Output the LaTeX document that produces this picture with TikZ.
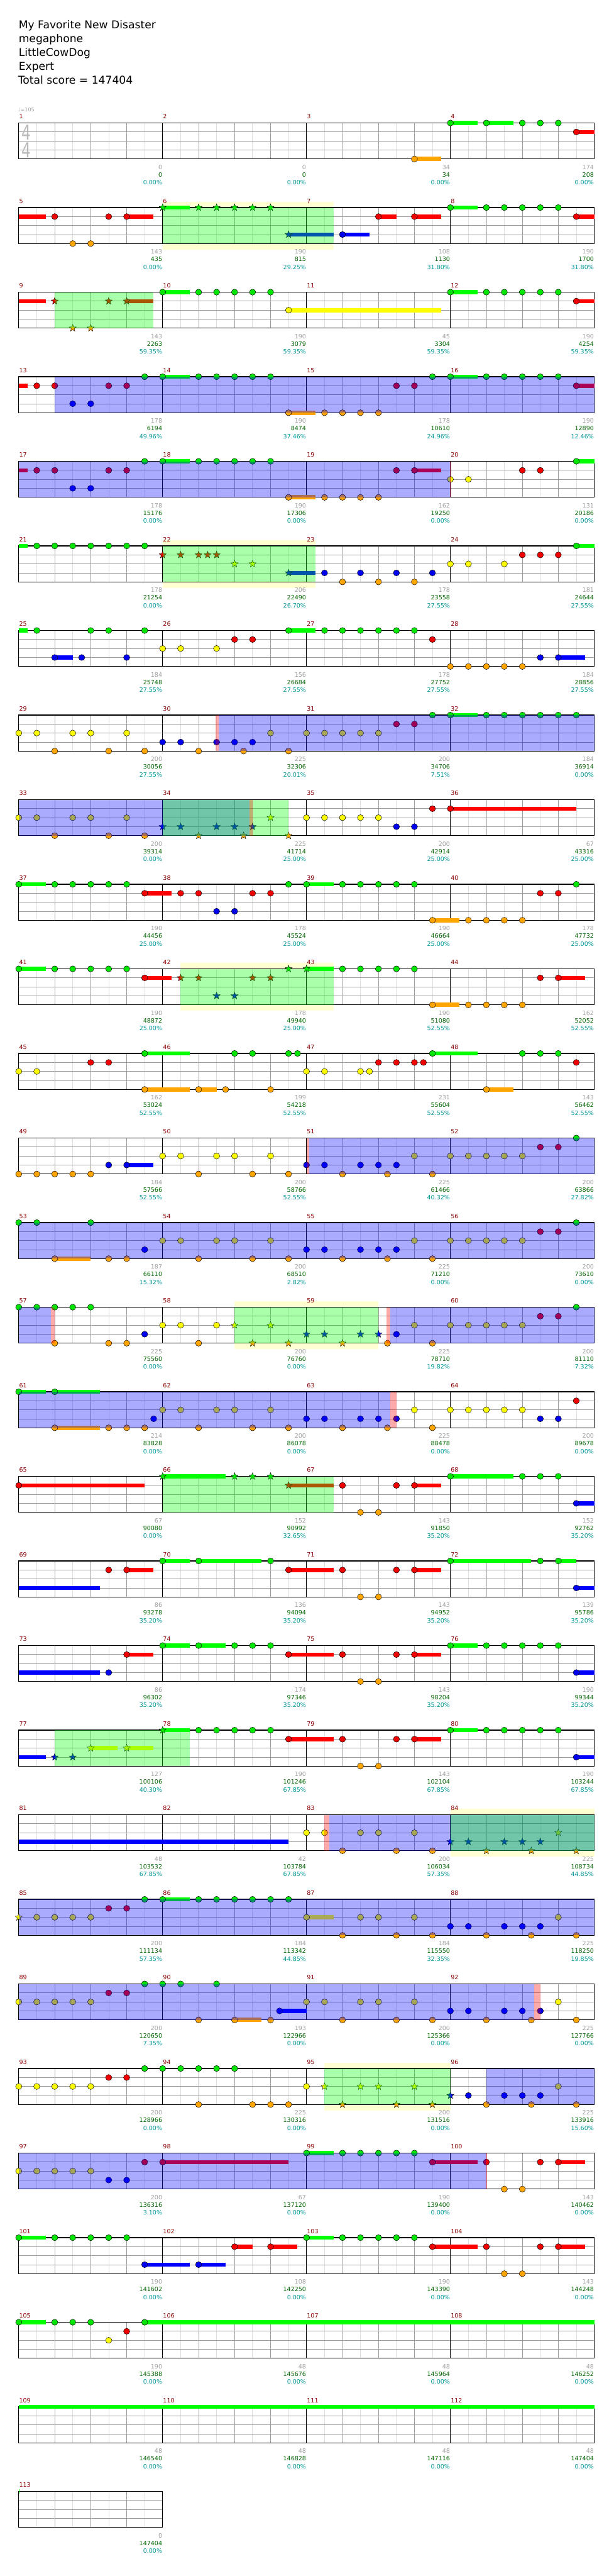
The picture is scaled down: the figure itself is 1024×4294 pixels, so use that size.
\documentclass[tikz,border=0pt]{standalone}
\usepackage{fontspec}
\setmainfont{DejaVu Sans}
\usetikzlibrary{shapes.geometric}
\pgfdeclarelayer{back}\pgfdeclarelayer{bg}\pgfdeclarelayer{fg}
\pgfsetlayers{back,bg,main,fg}
\definecolor{nG}{RGB}{0,230,0}\definecolor{sG}{RGB}{0,255,0}
\definecolor{nR}{RGB}{240,0,0}\definecolor{sR}{RGB}{255,0,0}
\definecolor{nY}{RGB}{250,250,0}\definecolor{sY}{RGB}{255,255,0}
\definecolor{nB}{RGB}{0,0,240}\definecolor{sB}{RGB}{0,0,255}
\definecolor{nO}{RGB}{255,165,0}\definecolor{sO}{RGB}{255,165,0}
\definecolor{ovB}{RGB}{0,0,255}\definecolor{ovG}{RGB}{0,255,0}\definecolor{ovP}{RGB}{255,0,0}
\definecolor{ybg}{RGB}{255,255,210}
\definecolor{mnumc}{RGB}{139,0,0}
\definecolor{labg}{RGB}{160,160,160}
\definecolor{labs}{RGB}{0,100,0}
\definecolor{labp}{RGB}{0,150,150}
\definecolor{tsig}{RGB}{185,185,185}
\def\lnG{0}\def\lnR{1}\def\lnY{2}\def\lnB{3}\def\lnO{4}
\tikzset{
 eighthl/.style={draw={rgb,255:red,222;green,222;blue,222},line width=0.8pt},
 beatl/.style={draw={rgb,255:red,155;green,155;blue,155},line width=0.9pt},
 lanel/.style={draw={rgb,255:red,155;green,155;blue,155},line width=1pt},
 barl/.style={draw=black,line width=0.9pt},
 borderl/.style={draw=black,line width=1.2pt},
 notest/.style={draw=black,line width=0.5pt},
 starst/.style={star,star points=5,star point ratio=2.4,minimum size=12.5pt,inner sep=0pt,draw=black,line width=0.4pt},
 mnum/.style={text=mnumc,inner sep=0pt,font=\fontsize{10}{12}\selectfont},
 lab/.style={inner sep=0pt,anchor=base east,font=\fontsize{10}{12}\selectfont},
 hdr/.style={inner sep=0pt,anchor=base west,font=\fontsize{18}{22}\selectfont}
}
\newcommand\setrow[1]{\pgfmathsetmacro\RT{205+141*#1}}
\newcommand\Nt[2]{\pgfmathsetmacro\ly{\RT+15*\csname ln#1\endcsname}\foreach \q in {#2}{\path[notest,fill=n#1] ({31.3+30*\q},\ly) ellipse[x radius=5.2pt,y radius=5pt];}}
\newcommand\Sus[3]{\pgfmathsetmacro\ly{\RT+15*\csname ln#1\endcsname}\fill[s#1] ({31.3+30*#2},{\ly-3.5}) rectangle ({31.3+30*#3},{\ly+3.5});}
\newcommand\NtS[3]{\Sus{#1}{#2}{#3}\Nt{#1}{#2}}
\newcommand\Sta[2]{\pgfmathsetmacro\ly{\RT+15*\csname ln#1\endcsname}\foreach \q in {#2}{\node[starst,fill=n#1] at ({31.3+30*\q},\ly) {};}}
\newcommand\StaS[3]{\Sus{#1}{#2}{#3}\Sta{#1}{#2}}
\newcommand\Bo[2]{\begin{pgfonlayer}{fg}\fill[ovB,fill opacity=0.333] ({31.3+30*#1},\RT) rectangle ({31.3+30*#2},{\RT+60});\end{pgfonlayer}}
\newcommand\Gr[2]{\begin{pgfonlayer}{fg}\fill[ovG,fill opacity=0.333] ({31.3+30*#1},\RT) rectangle ({31.3+30*#2},{\RT+60});\end{pgfonlayer}}
\newcommand\Pk[2]{\begin{pgfonlayer}{fg}\fill[ovP,fill opacity=0.333] ({31.3+30*#1},\RT) rectangle ({31.3+30*#2},{\RT+60});\end{pgfonlayer}}
\newcommand\Ye[2]{\begin{pgfonlayer}{bg}\fill[ybg] ({31.3+30*#1},{\RT-10}) rectangle ({31.3+30*#2},{\RT+70});\end{pgfonlayer}}
\newcommand\Labs[1]{\foreach \ga/\gb/\gc [count=\j from 1] in {#1}{%
 \node[lab,text=labg] at ({30.8+240*\j},{\RT+77}) {\ga};
 \node[lab,text=labs] at ({30.8+240*\j},{\RT+90}) {\gb};
 \node[lab,text=labp] at ({30.8+240*\j},{\RT+103}) {\gc\%};}}
\newcommand\Staff[1]{%
 \pgfmathsetmacro\W{240*#1}%
 \fill[white] (31.3,\RT) rectangle ++(\W,60);
 \pgfmathtruncatemacro\ne{8*#1-1}%
 \foreach \i in {1,...,\ne}{\draw[eighthl] ({31.3+30*\i},\RT) -- ++(0,60);}
 \pgfmathtruncatemacro\nb{4*#1-1}%
 \foreach \i in {1,...,\nb}{\draw[beatl] ({31.3+60*\i},\RT) -- ++(0,60);}
 \foreach \l in {1,2,3}{\draw[lanel] (31.3,{\RT+15*\l}) -- ++(\W,0);}
 \ifnum#1>1 \foreach \i in {1,2,3}{\draw[barl] ({31.3+240*\i},\RT) -- ++(0,60);}\fi
 \draw[borderl] (31.3,\RT) rectangle ++(\W,60);
}
\begin{document}
\begin{tikzpicture}[x=1pt,y=-1pt]
\useasboundingbox (0,0) rectangle (1024,4294);
\begin{pgfonlayer}{back}\fill[white] (0,0) rectangle (1024,4294);\end{pgfonlayer}
\node[hdr] (t1) at (31,48) {My Favorite New Disaster};
\node[hdr] (t2) at (31,71) {megaphone};
\node[hdr] (t3) at (31,94) {LittleCowDog};
\node[hdr] (t4) at (31,117) {Expert};
\node[hdr] (t5) at (30,140) {Total score = 147404};
\node[inner sep=0pt,anchor=base west,text=labg,font=\fontsize{8.5}{10}\selectfont] (tempo) at (30,186) {♩=105};
% staffs
\foreach \r in {0,...,27}{\setrow{\r}\Staff{4}%
 \foreach \j in {0,...,3}{\pgfmathtruncatemacro\mn{4*\r+\j+1}\node[mnum,anchor=base west] at ({31.8+240*\j},{\RT-7}) {\mn};}}
\setrow{28}\Staff{1}\node[mnum,anchor=base west] at (31.8,{\RT-7}) {113};
\node[inner sep=0pt,anchor=base,text=tsig,font=\fontsize{34}{34}\selectfont] (ts1) at (44,233) {\scalebox{0.72}[1]{4}};
\node[inner sep=0pt,anchor=base,text=tsig,font=\fontsize{34}{34}\selectfont] (ts2) at (44,263) {\scalebox{0.72}[1]{4}};
% row 0
\setrow{0}
\NtS{O}{22}{23.5}\NtS{G}{24}{25.5}\NtS{G}{26}{27.5}\Nt{G}{28,29,30}\NtS{R}{31}{32}
\Labs{0/0/0.00,0/0/0.00,34/34/0.00,174/208/0.00}
% row 1
\setrow{1}
\Ye{8}{17.5}
\Sus{R}{0}{1.5}\Nt{R}{2,5}\NtS{R}{6}{7.5}\Nt{O}{3,4}
\StaS{G}{8}{9.5}\Sta{G}{10,11,12,13,14}\StaS{B}{15}{17.5}
\NtS{B}{18}{19.5}\NtS{R}{20}{21}\NtS{R}{22}{23.5}
\NtS{G}{24}{25.5}\Nt{G}{26,27,28,29,30}\NtS{R}{31}{32}
\Gr{8}{17.5}
\Labs{143/435/0.00,190/815/29.25,108/1130/31.80,190/1700/31.80}
% row 2
\setrow{2}
\Sus{R}{0}{1.5}\Sta{R}{2,5}\StaS{R}{6}{7.5}\Sta{O}{3,4}
\Gr{2}{7.5}
\NtS{G}{8}{9.5}\Nt{G}{10,11,12,13,14}\NtS{Y}{15}{23.5}
\NtS{G}{24}{25.5}\Nt{G}{26,27,28,29,30}\NtS{R}{31}{32}
\Labs{143/2263/59.35,190/3079/59.35,45/3304/59.35,190/4254/59.35}
% row 3
\setrow{3}
\Sus{R}{0}{0.5}\Nt{R}{1,2,5,6}\Nt{B}{3,4}
\Nt{G}{7}\NtS{G}{8}{9.5}\Nt{G}{10,11,12,13,14}
\NtS{O}{15}{16.5}\Nt{O}{17,18,19,20}\Nt{R}{21,22}
\Nt{G}{23}\NtS{G}{24}{25.5}\Nt{G}{26,27,28,29,30}\NtS{R}{31}{32}
\Bo{2}{32}
\Labs{178/6194/49.96,190/8474/37.46,178/10610/24.96,190/12890/12.46}
% row 4
\setrow{4}
\Sus{R}{0}{0.5}\Nt{R}{1,2,5,6}\Nt{B}{3,4}
\Nt{G}{7}\NtS{G}{8}{9.5}\Nt{G}{10,11,12,13,14}
\NtS{O}{15}{16.5}\Nt{O}{17,18,19,20}\Nt{R}{21}\NtS{R}{22}{23.5}
\Nt{Y}{24,25}\Nt{R}{28,29}\NtS{G}{31}{32}
\Bo{0}{24}\Pk{23.97}{24.03}
\Labs{178/15176/0.00,190/17306/0.00,162/19250/0.00,131/20186/0.00}
% row 5
\setrow{5}
\Ye{8}{16.5}
\Sus{G}{0}{0.5}\Nt{G}{1,2,3,4,5,6,7}
\Sta{R}{8,9,10,10.5,11}\Sta{Y}{12,13}\StaS{B}{15}{16.5}
\Nt{B}{17,19,21,23}\Nt{O}{18,20,22}
\Nt{Y}{24,25,27}\Nt{R}{28,29,30}\NtS{G}{31}{32}
\Gr{8}{16.5}
\Labs{178/21254/0.00,206/22490/26.70,178/23558/27.55,181/24644/27.55}
% row 6
\setrow{6}
\Sus{G}{0}{0.5}\Nt{G}{1,4,5,7}\NtS{B}{2}{3}\Nt{B}{3.5,6}
\Nt{Y}{8,9,11}\Nt{R}{12,13}
\NtS{G}{15}{16.5}\Nt{G}{17,18,19,20,21,22}
\Nt{R}{23}\Nt{O}{24,25,26,27,28}\Nt{B}{29}\NtS{B}{30}{31.5}
\Labs{184/25748/27.55,156/26684/27.55,178/27752/27.55,184/28856/27.55}
% row 7
\setrow{7}
\Nt{Y}{0,1,3,4,6}\Nt{O}{2,5,7,10,12.5,15}\Nt{B}{8,9,11,12,13}
\Nt{Y}{14,16,17,18,19,20}\Nt{R}{21,22}
\Nt{G}{23}\NtS{G}{24}{25.5}\Nt{G}{26,27,28,29,30,31}
\Pk{10.95}{11.12}\Bo{11.12}{32}
\Labs{200/30056/27.55,225/32306/20.01,200/34706/7.51,184/36914/0.00}
% row 8
\setrow{8}
\Nt{Y}{0,1,3,4,6}\Nt{O}{2,5,7}
\Sta{B}{8,9,11,12,13}\Sta{O}{10,12.5,15}\Sta{Y}{14}
\Nt{Y}{16,17,18,19,20}\Nt{B}{21,22}\Nt{R}{23}\NtS{R}{24}{31}
\Bo{0}{12.82}\Gr{8}{15}\Pk{12.82}{13}
\Labs{200/39314/0.00,225/41714/25.00,200/42914/25.00,67/43316/25.00}
% row 9
\setrow{9}
\NtS{G}{0}{1.5}\Nt{G}{2,3,4,5,6}
\NtS{R}{7}{8.5}\Nt{R}{9,10,13,14}\Nt{B}{11,12}
\Nt{G}{15}\NtS{G}{16}{17.5}\Nt{G}{18,19,20,21,22}
\NtS{O}{23}{24.5}\Nt{O}{25,26,27,28}\Nt{R}{29,30}\Nt{G}{31}
\Labs{190/44456/25.00,178/45524/25.00,190/46664/25.00,178/47732/25.00}
% row 10
\setrow{10}
\Ye{9}{17.5}
\NtS{G}{0}{1.5}\Nt{G}{2,3,4,5,6}\NtS{R}{7}{8.5}
\Sta{R}{9,10,13,14}\Sta{B}{11,12}\Sta{G}{15}\StaS{G}{16}{17.5}
\Nt{G}{18,19,20,21,22}\NtS{O}{23}{24.5}\Nt{O}{25,26,27,28}
\Nt{R}{29}\NtS{R}{30}{31.5}
\Gr{9}{17.5}
\Labs{190/48872/25.00,178/49940/25.00,190/51080/52.55,162/52052/52.55}
% row 11
\setrow{11}
\Nt{Y}{0,1}\Nt{R}{4,5}\NtS{G}{7}{9.5}\NtS{O}{7}{9.5}
\NtS{O}{10}{11}\Nt{O}{11.5,14}\Nt{G}{12,13,15,15.5}
\Nt{Y}{16,17,19,19.5}\Nt{R}{20,21,22,22.5}
\NtS{G}{23}{25.5}\NtS{O}{26}{27.5}\Nt{G}{28,29,30}\Nt{R}{31}
\Labs{162/53024/52.55,199/54218/52.55,231/55604/52.55,143/56462/52.55}
% row 12
\setrow{12}
\Nt{O}{0,1,2,3,4}\Nt{B}{5}\NtS{B}{6}{7.5}
\Nt{Y}{8,9,11,12,14}\Nt{O}{10,13,15}
\Nt{B}{16,17,19,20,21}\Nt{O}{18,20.5,23}
\Nt{Y}{22,24,25,26,27,28}\Nt{R}{29,30}\Nt{G}{31}
\Pk{16}{16.15}\Bo{16.15}{32}
\Labs{184/57566/52.55,200/58766/52.55,225/61466/40.32,200/63866/27.82}
% row 13
\setrow{13}
\Nt{G}{0,1,4}\NtS{O}{2}{4}\Nt{O}{5,6,10,13,15,18,20.5,23}
\Nt{B}{7,16,17,19,20,21}\Nt{Y}{8,9,11,12,14,22,24,25,26,27,28}
\Nt{R}{29,30}\Nt{G}{31}
\Bo{0}{32}
\Labs{187/66110/15.32,200/68510/2.82,225/71210/0.00,200/73610/0.00}
% row 14
\setrow{14}
\Ye{12}{20}
\Nt{G}{0,1,2,3,4}\Nt{O}{2,5,6,10}\Nt{B}{7}\Nt{Y}{8,9,11}
\Sta{Y}{12,14}\Sta{O}{13,15,18}\Sta{B}{16,17,19,20}
\Nt{O}{20.5,23}\Nt{B}{21}\Nt{Y}{22,24,25,26,27,28}\Nt{R}{29,30}\Nt{G}{31}
\Bo{0}{1.8}\Pk{1.8}{2}\Gr{12}{20}\Pk{20.45}{20.65}\Bo{20.65}{32}
\Labs{225/75560/0.00,200/76760/0.00,225/78710/19.82,200/81110/7.32}
% row 15
\setrow{15}
\NtS{G}{0}{1.5}\NtS{G}{2}{4.5}\NtS{O}{2}{4.5}\Nt{O}{5,6,7,10,13,15,18,20.5,23}
\Nt{B}{7.5,16,17,19,20,21}\Nt{Y}{8,9,11,12,14,22,24,25,26,27,28}
\Nt{B}{29,30}\Nt{R}{31}
\Bo{0}{20.65}\Pk{20.65}{21}
\Labs{214/83828/0.00,200/86078/0.00,225/88478/0.00,200/89678/0.00}
% row 16
\setrow{16}
\NtS{R}{0}{7}\StaS{G}{8}{11.5}\Sta{G}{12,13,14}\StaS{R}{15}{17.5}
\Nt{R}{18,21}\NtS{R}{22}{23.5}\Nt{O}{19,20}
\NtS{G}{24}{27.5}\Nt{G}{28,29,30}\NtS{B}{31}{32}
\Gr{8}{17.5}
\Labs{67/90080/0.00,152/90992/32.65,143/91850/35.20,152/92762/35.20}
% row 17
\setrow{17}
\Sus{B}{0}{4.5}\Nt{R}{5}\NtS{R}{6}{7.5}
\NtS{G}{8}{9.5}\NtS{G}{10}{13.5}\Nt{G}{14}
\NtS{R}{15}{17.5}\Nt{R}{18,21}\NtS{R}{22}{23.5}\Nt{O}{19,20}
\NtS{G}{24}{28.5}\Nt{G}{29}\NtS{G}{30}{31}\NtS{B}{31}{32}
\Labs{86/93278/35.20,136/94094/35.20,143/94952/35.20,139/95786/35.20}
% row 18
\setrow{18}
\Sus{B}{0}{4.5}\Nt{B}{5}\NtS{R}{6}{7.5}
\NtS{G}{8}{9.5}\NtS{G}{10}{11.5}\Nt{G}{12,13,14}
\NtS{R}{15}{17.5}\Nt{R}{18,21}\NtS{R}{22}{23.5}\Nt{O}{19,20}
\NtS{G}{24}{25.5}\Nt{G}{26,27,28,29,30}\NtS{B}{31}{32}
\Labs{86/96302/35.20,174/97346/35.20,143/98204/35.20,190/99344/35.20}
% row 19
\setrow{19}
\Sus{B}{0}{1.5}\Sta{B}{2,3}\StaS{Y}{4}{5.5}\StaS{Y}{6}{7.5}\StaS{G}{8}{9.5}
\Gr{2}{9.5}
\Nt{G}{10,11,12,13,14}
\NtS{R}{15}{17.5}\Nt{R}{18,21}\NtS{R}{22}{23.5}\Nt{O}{19,20}
\NtS{G}{24}{25.5}\Nt{G}{26,27,28,29,30}\NtS{B}{31}{32}
\Labs{127/100106/40.30,190/101246/67.85,143/102104/67.85,190/103244/67.85}
% row 20
\setrow{20}
\Ye{24}{32}
\Sus{B}{0}{15}\Nt{Y}{16,17,19,20,22}\Nt{O}{18,21,23}
\Sta{B}{24,25,27,28,29}\Sta{O}{26,28.5,31}\Sta{Y}{30}
\Pk{17}{17.25}\Bo{17.25}{32}\Gr{24}{32}
\Labs{48/103532/67.85,42/103784/67.85,200/106034/57.35,225/108734/44.85}
% row 21
\setrow{21}
\Sta{Y}{0}\Nt{Y}{1,2,3,4}\Nt{R}{5,6}
\Nt{G}{7}\NtS{G}{8}{9.5}\Nt{G}{10,11,12,13,14,15}
\NtS{Y}{16}{17.5}\Nt{Y}{19,20,22,30}
\Nt{O}{18,21,23,26,28.5,31}\Nt{B}{24,25,27,28,29}
\Bo{0}{32}
\Labs{200/111134/57.35,184/113342/44.85,184/115550/32.35,225/118250/19.85}
% row 22
\setrow{22}
\Nt{Y}{0,1,2,3,4}\Nt{R}{5,6}\Nt{G}{7,8,9,11}
\Nt{O}{10}\NtS{O}{12}{13.5}\Nt{O}{14}\NtS{B}{14.5}{16}
\Nt{Y}{16,17,19,20,22,30}\Nt{O}{18,21,23,26,28.5,31}\Nt{B}{24,25,27,28,29}
\Bo{0}{28.67}\Pk{28.67}{29}
\Labs{200/120650/7.35,193/122966/0.00,200/125366/0.00,225/127766/0.00}
% row 23
\setrow{23}
\Ye{17}{24}
\Nt{Y}{0,1,2,3,4}\Nt{R}{5,6}\Nt{G}{7,8,9,10,11,12}
\Nt{O}{10,13,14,15}\Nt{Y}{16}
\Sta{Y}{17,19,20,22}\Sta{O}{18,21,23}\Sta{B}{24}
\Nt{B}{25,27,28,29}\Nt{O}{26,28.5,31}\Nt{Y}{30}
\Gr{17}{24}\Bo{26}{32}
\Labs{200/128966/0.00,225/130316/0.00,200/131516/0.00,225/133916/15.60}
% row 24
\setrow{24}
\Nt{Y}{0,1,2,3,4}\Nt{B}{5,6}\Nt{R}{7}\NtS{R}{8}{15}
\NtS{G}{16}{17.5}\Nt{G}{18,19,20,21,22}
\NtS{R}{23}{25.5}\Nt{R}{26}\Nt{O}{27,28}\Nt{R}{29}\NtS{R}{30}{31.5}
\Bo{0}{26}\Pk{25.97}{26.03}
\Labs{200/136316/3.10,67/137120/0.00,190/139400/0.00,143/140462/0.00}
% row 25
\setrow{25}
\NtS{G}{0}{1.5}\Nt{G}{2,3,4,5,6}\NtS{B}{7}{9.5}\NtS{B}{10}{11.5}
\NtS{R}{12}{13}\NtS{R}{14}{15.5}
\NtS{G}{16}{17.5}\Nt{G}{18,19,20,21,22}
\NtS{R}{23}{25.5}\Nt{R}{26}\Nt{O}{27,28}\Nt{R}{29}\NtS{R}{30}{31.5}
\Labs{190/141602/0.00,108/142250/0.00,190/143390/0.00,143/144248/0.00}
% row 26
\setrow{26}
\NtS{G}{0}{1.5}\Nt{G}{2,3,4}\Nt{Y}{5}\Nt{R}{6}\NtS{G}{7}{32}
\Labs{190/145388/0.00,48/145676/0.00,48/145964/0.00,48/146252/0.00}
% row 27
\setrow{27}
\Sus{G}{0}{32}
\Labs{48/146540/0.00,48/146828/0.00,48/147116/0.00,48/147404/0.00}
% row 28
\setrow{28}
\Sus{G}{0}{0.04}
\Labs{0/147404/0.00}
\end{tikzpicture}
\end{document}
